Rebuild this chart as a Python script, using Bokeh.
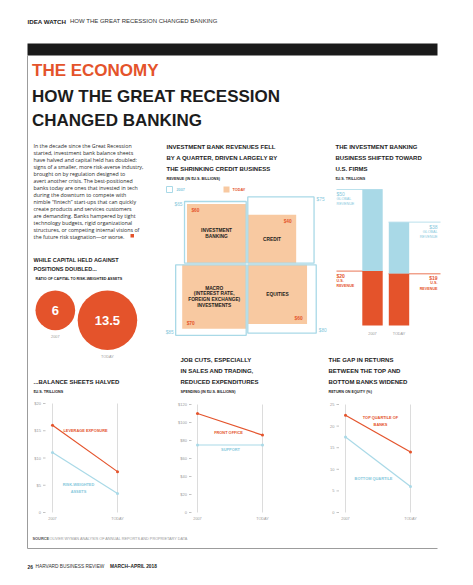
import math
from bokeh.plotting import figure
from bokeh.models import Range1d
from bokeh.core.properties import value
from bokeh.embed import file_html
from bokeh.resources import INLINE

# ---------------- data ----------------
capital_periods = ["2007", "TODAY"]
capital_ratio = [6, 13.5]

rev_segments = ["INVESTMENT\nBANKING", "CREDIT",
                "MACRO\n(INTEREST RATE,\nFOREIGN EXCHANGE)\nINVESTMENTS", "EQUITIES"]
rev_2007 = [65, 75, 85, 80]
rev_today = [60, 40, 70, 60]

share_periods = ["2007", "TODAY"]
global_revenue = [50, 38]
us_revenue = [20, 19]

line_periods = ["2007", "TODAY"]
leverage_exposure = [16, 7.5]
risk_weighted_assets = [11, 3.5]
bs_ticks = [0, 5, 10, 15, 20]
bs_tick_labels = ["0", "$5", "$10", "$15", "$20"]

front_office = [110, 86]
support = [75, 75]
sp_ticks = [0, 20, 40, 60, 80, 100, 120]
sp_tick_labels = ["0", "$20", "$40", "$60", "$80", "$100", "$120"]

roe_top = [22.5, 14]
roe_bottom = [17.5, 6]
roe_ticks = [0, 5, 10, 15, 20, 25]
roe_tick_labels = ["0", "5", "10", "15", "20", "25"]

body_lines = [
    "In the decade since the Great Recession",
    "started, investment bank balance sheets",
    "have halved and capital held has doubled:",
    "signs of a smaller, more risk-averse industry,",
    "brought on by regulation designed to",
    "avert another crisis. The best-positioned",
    "banks today are ones that invested in tech",
    "during the downturn to compete with",
    "nimble \u201cfintech\u201d start-ups that can quickly",
    "create products and services customers",
    "are demanding. Banks hampered by tight",
    "technology budgets, rigid organizational",
    "structures, or competing internal visions of",
    "the future risk stagnation\u2014or worse.",
]

# ---------------- style ----------------
RED = "#E4532B"
BLUE_L = "#A9D9E7"
BLUE_T = "#86C8DC"
PEACH = "#F8C9A1"
DARK = "#1C1C1C"
GRAY = "#9A9A9A"
GRID = "#D3D3D3"
FRAME = "#9C9C9C"

HEAD = "'Liberation Sans', Arial, sans-serif"
SANS = "'Liberation Sans', Arial, sans-serif"
BODY = "'Open Sans', sans-serif"

OFF = 0
W, H = 457, 569
p = figure(width=W, height=H, output_backend="svg", toolbar_location=None,
           x_range=Range1d(OFF, OFF + W), y_range=Range1d(OFF + H, OFF),
           x_axis_type=None, y_axis_type=None, min_border=0)
p.grid.visible = False
p.outline_line_color = None
p.background_fill_color = "white"
p.border_fill_color = "white"


def xmap(v0, px0, v1, px1):
    s = (v1 - v0) / (px1 - px0)
    return Range1d(v0 + (OFF - px0) * s, v0 + (OFF + W - px0) * s)


def ymap(v0, py0, v1, py1):
    s = (v1 - v0) / (py1 - py0)
    return Range1d(v0 + (OFF + H - py0) * s, v0 + (OFF - py0) * s)


def txt(x, y, s, size, color=DARK, font=SANS, style="normal", align="left",
        baseline="middle", lh=1.2, **kw):
    x = x if isinstance(x, list) else [x]
    y = y if isinstance(y, list) else [y]
    s = s if isinstance(s, list) else [s]
    n = max(len(x), len(y), len(s))
    x = x * n if len(x) == 1 else x
    y = y * n if len(y) == 1 else y
    s = s * n if len(s) == 1 else s
    p.text(x=x, y=y, text=s, text_font=value(font),
           text_font_size=value(f"{size}px"), text_font_style=value(style),
           text_color=color, text_align=align, text_baseline=baseline,
           text_line_height=lh, **kw)


# ---------------- page header ----------------
txt(27, 20.5, "IDEA WATCH", 6.2, DARK, SANS, "bold")
txt(69.5, 20.5, "HOW THE GREAT RECESSION CHANGED BANKING", 6.0, "#333333", SANS)
p.quad(left=[27], right=[437], top=[43], bottom=[55], fill_color="#1A1A1A", line_color=None)
p.line(x=[27, 27, 437], y=[55, 548, 548], line_color=FRAME, line_width=1)

TS = 17
txt(31.5, 70, "THE ECONOMY", TS, RED, HEAD, "bold")
txt(31.5, [95.5, 120], ["HOW THE GREAT RECESSION", "CHANGED BANKING"], TS, DARK, HEAD, "bold")

# body text
txt(33, [141 + 7.0 * i for i in range(len(body_lines))], body_lines, 5.3, "#2A2A2A", BODY,
    baseline="top")
p.quad(left=[130], right=[133.5], top=[233.5], bottom=[237], fill_color=RED, line_color=None)

HS = 6.0
# ---------------- capital circles ----------------
txt(33, [259.5, 268.5], ["WHILE CAPITAL HELD AGAINST", "POSITIONS DOUBLED..."], 5.5, DARK,
    HEAD, "bold")
txt(35, 278.5, "RATIO OF CAPITAL TO RISK-WEIGHTED ASSETS", 3.7, DARK, SANS, "bold")

kc = 8.1
radii = [kc * math.sqrt(v) for v in capital_ratio]
cxs = [35 + radii[0]]
cxs.append(cxs[0] + radii[0] + 2.5 + radii[1])
cys = [290 + r for r in radii]
p.circle(x=cxs, y=cys, radius=radii, fill_color=RED, line_color=None)
txt(cxs, cys, [f"{v:g}" for v in capital_ratio], 13, "white", HEAD, "bold", "center")
txt(cxs, [cy + r + 6.5 for cy, r in zip(cys, radii)], capital_periods, 3.8, GRAY, SANS,
    align="center")

# ---------------- treemap ----------------
txt(166, [146.5, 157.5, 168.5],
    ["INVESTMENT BANK REVENUES FELL", "BY A QUARTER, DRIVEN LARGELY BY",
     "THE SHRINKING CREDIT BUSINESS"], HS, DARK, HEAD, "bold")
txt(166, 178.5, "REVENUE (IN $U.S. BILLIONS)", 3.7, DARK, SANS, "bold")
p.quad(left=[166], right=[172], top=[186], bottom=[192], fill_color=None,
       line_color=BLUE_L, line_width=1)
txt(176, 189, "2007", 3.8, BLUE_T, SANS, "bold")
p.quad(left=[223], right=[229], top=[186], bottom=[192], fill_color=PEACH, line_color=None)
txt(232, 189, "TODAY", 3.8, RED, SANS, "bold")

tcx, tcy, k, gap = 246.5, 263.5, 7.65, 0.8
signs = [(-1, -1), (1, -1), (-1, 1), (1, 1)]


def square(v, sx, sy):
    s = k * math.sqrt(v)
    l, r = (tcx - gap - s, tcx - gap) if sx < 0 else (tcx + gap, tcx + gap + s)
    t, b = (tcy - gap - s, tcy - gap) if sy < 0 else (tcy + gap, tcy + gap + s)
    return l, r, t, b


sq_today = [square(v, *sg) for v, sg in zip(rev_today, signs)]
sq_2007 = [square(v, *sg) for v, sg in zip(rev_2007, signs)]
p.quad(left=[q[0] for q in sq_today], right=[q[1] for q in sq_today],
       top=[q[2] for q in sq_today], bottom=[q[3] for q in sq_today],
       fill_color=PEACH, line_color=None)
p.quad(left=[q[0] for q in sq_2007], right=[q[1] for q in sq_2007],
       top=[q[2] for q in sq_2007], bottom=[q[3] for q in sq_2007],
       fill_color=None, line_color=BLUE_L, line_width=1.3)

for name, q in zip(rev_segments, sq_today):
    txt((q[0] + q[1]) / 2, (q[2] + q[3]) / 2, name, 4.8, DARK, SANS, "bold", "center", lh=1.15)

for v, q, (sx, sy) in zip(rev_2007, sq_2007, signs):
    x = q[0] - 2 if sx < 0 else q[1] + 2.5
    y = q[2] + 2.5 if sy < 0 else q[3] - 2.5
    txt(x, y, f"${v}", 4.8, BLUE_T, SANS, "normal", "right" if sx < 0 else "left")

for v, q, (sx, sy) in zip(rev_today, sq_today, signs):
    x = q[0] + 4.5 if sx < 0 else q[1] - 4.5
    y = q[2] + 6.5 if sy < 0 else q[3] - 5.5
    txt(x, y, f"${v}", 4.8, RED, SANS, "bold", "left" if sx < 0 else "right")

# ---------------- stacked bars ----------------
txt(335, [146.5, 157.5, 168.5],
    ["THE INVESTMENT BANKING", "BUSINESS SHIFTED TOWARD", "U.S. FIRMS"], HS, DARK, HEAD, "bold")
txt(335, 178.5, "$U.S. TRILLIONS", 3.7, DARK, SANS, "bold")

p.extra_x_ranges["bars_x"] = xmap(0, 372, 1, 398.5)
p.extra_y_ranges["bars_y"] = ymap(0, 325, 50, 189)
BR = dict(y_range_name="bars_y")

p.segment(x0=[336, 388], x1=[382, 440], y0=global_revenue, y1=global_revenue,
          line_color=BLUE_L, line_width=0.8, **BR)
p.segment(x0=[336, 388], x1=[382, 440], y0=us_revenue, y1=us_revenue,
          line_color=RED, line_width=0.8, **BR)

p.vbar(x=[0, 1], width=0.77, bottom=us_revenue, top=global_revenue, fill_color=BLUE_L,
       line_color=None, x_range_name="bars_x", y_range_name="bars_y")
p.vbar(x=[0, 1], width=0.77, bottom=[0, 0], top=us_revenue, fill_color=RED,
       line_color=None, x_range_name="bars_x", y_range_name="bars_y")

txt([336], [global_revenue[0]], [f"${global_revenue[0]}"], 5.0, BLUE_T, SANS, "normal",
    baseline="top", y_offset=1.5, **BR)
txt([336], [global_revenue[0]], ["GLOBAL\nREVENUE"], 3.7, BLUE_T, SANS, "normal",
    baseline="top", y_offset=7.5, lh=1.3, **BR)
txt([437], [global_revenue[1]], [f"${global_revenue[1]}"], 5.0, BLUE_T, SANS, "normal",
    "right", baseline="top", y_offset=1.5, **BR)
txt([437], [global_revenue[1]], ["GLOBAL\nREVENUE"], 3.7, BLUE_T, SANS, "normal", "right",
    baseline="top", y_offset=7.5, lh=1.3, **BR)
txt([336], [us_revenue[0]], [f"${us_revenue[0]}"], 5.0, RED, SANS, "bold",
    baseline="top", y_offset=1.5, **BR)
txt([336], [us_revenue[0]], ["U.S.\nREVENUE"], 3.7, RED, SANS, "bold",
    baseline="top", y_offset=7.5, lh=1.3, **BR)
txt([437], [us_revenue[1]], [f"${us_revenue[1]}"], 5.0, RED, SANS, "bold", "right",
    baseline="top", y_offset=1.5, **BR)
txt([437], [us_revenue[1]], ["U.S.\nREVENUE"], 3.7, RED, SANS, "bold", "right",
    baseline="top", y_offset=7.5, lh=1.3, **BR)
txt([0, 1], [333], share_periods, 3.8, GRAY, SANS, "normal", "center",
    x_range_name="bars_x")


# ---------------- line charts ----------------
def line_chart(name, xpx, ypx, vmax, ticks, labels, tick_right, series, colors):
    p.extra_x_ranges[name + "_x"] = xmap(0, xpx[0], 1, xpx[1])
    p.extra_y_ranges[name + "_y"] = ymap(0, ypx[0], vmax, ypx[1])
    rx = dict(x_range_name=name + "_x", y_range_name=name + "_y")
    p.segment(x0=[0, 1], x1=[0, 1], y0=[0, 0], y1=[vmax, vmax], line_color=GRID,
              line_width=0.8, **rx)
    txt([tick_right], ticks, labels, 4.0, GRAY, SANS, "normal", "right",
        y_range_name=name + "_y")
    p.segment(x0=[tick_right + 2] * len(ticks), x1=[tick_right + 4.5] * len(ticks),
              y0=ticks, y1=ticks, line_color=GRAY, line_width=0.6, y_range_name=name + "_y")
    txt([0, 1], [518], line_periods, 3.8, GRAY, SANS, "normal", "center",
        x_range_name=name + "_x")
    for s, c in zip(series, colors):
        p.line(x=[0, 1], y=s, line_color=c, line_width=1.2, **rx)
        p.scatter(x=[0, 1], y=s, size=3, fill_color=c, line_color=None, **rx)


# chart 1
txt(33, 381.5, "...BALANCE SHEETS HALVED", HS, DARK, HEAD, "bold")
txt(33, 391, "$U.S. TRILLIONS", 3.7, DARK, SANS, "bold")
line_chart("bs", (52, 117), (512, 403), 20, bs_ticks, bs_tick_labels, 40.5,
           [risk_weighted_assets, leverage_exposure], [BLUE_L, RED])
txt(85, 430, "LEVERAGE EXPOSURE", 3.9, RED, SANS, "bold", "center")
txt(78, 487.5, "RISK-WEIGHTED\nASSETS", 3.9, BLUE_T, SANS, "bold", "center", lh=1.3)

# chart 2
txt(180, [359.5, 370.5, 381.5],
    ["JOB CUTS, ESPECIALLY", "IN SALES AND TRADING,", "REDUCED EXPENDITURES"],
    HS, DARK, HEAD, "bold")
txt(180, 391, "SPENDING (IN $U.S. BILLIONS)", 3.7, DARK, SANS, "bold")
line_chart("sp", (197, 262), (512, 404), 120, sp_ticks, sp_tick_labels, 186.5,
           [support, front_office], [BLUE_L, RED])
txt(228, 432, "FRONT OFFICE", 3.9, RED, SANS, "bold", "center")
txt(230, 449, "SUPPORT", 3.9, BLUE_T, SANS, "bold", "center")

# chart 3
txt(328, [359.5, 370.5, 381.5],
    ["THE GAP IN RETURNS", "BETWEEN THE TOP AND", "BOTTOM BANKS WIDENED"],
    HS, DARK, HEAD, "bold")
txt(328, 391, "RETURN ON EQUITY (%)", 3.7, DARK, SANS, "bold")
line_chart("roe", (345, 410), (512, 404), 25, roe_ticks, roe_tick_labels, 334,
           [roe_bottom, roe_top], [BLUE_L, RED])
txt(380, 420.5, "TOP QUARTILE OF\nBANKS", 3.9, RED, SANS, "bold", "center", lh=1.3)
txt(373, 478, "BOTTOM QUARTILE", 3.9, BLUE_T, SANS, "bold", "center")

# ---------------- source & footer ----------------
txt(32, 538, "SOURCE", 3.9, "#555555", SANS, "bold")
txt(49, 538, "OLIVER WYMAN ANALYSIS OF ANNUAL REPORTS AND PROPRIETARY DATA", 3.8, GRAY, SANS)
txt(27, 566, "26", 4.8, DARK, SANS, "bold")
txt(35, 566, "HARVARD BUSINESS REVIEW", 4.8, "#333333", SANS)
txt(109.5, 566, "MARCH\u2013APRIL 2018", 4.8, DARK, SANS, "bold")

open("out.html", "w").write(file_html(p, INLINE))
